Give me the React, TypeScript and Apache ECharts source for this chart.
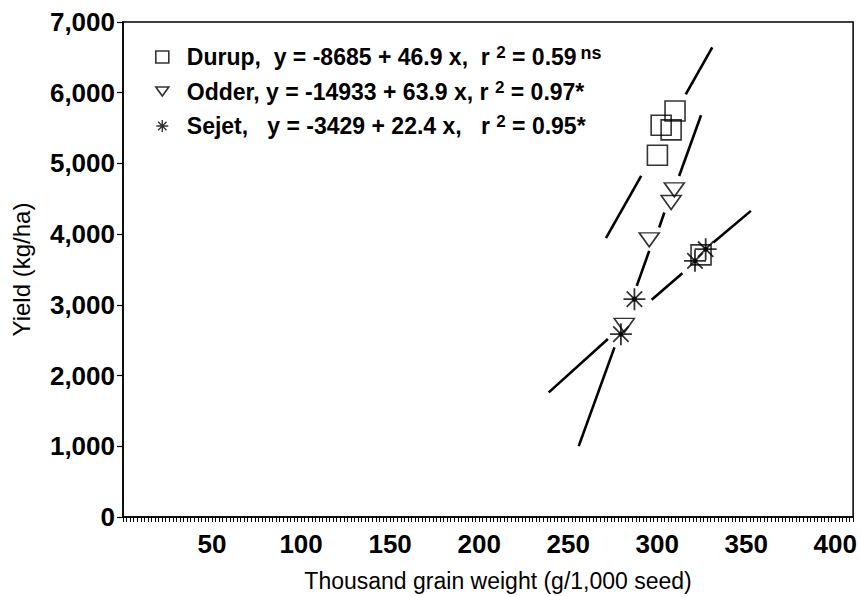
import React, { useEffect, useRef } from "react";
import * as echarts from "echarts";

const durupX = [310.0, 302.2, 307.8, 300.1, 324.6];
const durupY = [5742, 5540, 5474, 5116, 3707];
const odderX = [309.6, 307.8, 295.5, 281.5];
const odderY = [4626, 4447, 3919, 2709];
const sejetX = [327.2, 321.2, 287.2, 279.6];
const sejetY = [3787, 3622, 3081, 2586];

// Fitted-line pieces as drawn (each consecutive pair = one drawn dash)
const durupFitX = [271.2, 291.0, 316.0, 330.9];
const durupFitY = [3943, 4823, 5978, 6642];
const odderFitX = [255.9, 276.0, 288.5, 295.5, 301.1, 304.0, 312.3, 324.6];
const odderFitY = [1003, 2398, 3269, 3763, 4094, 4306, 4823, 5681];
const sejetFitX = [239.1, 272.3, 296.9, 314.1, 331.5, 352.6];
const sejetFitY = [1762, 2516, 3071, 3448, 3882, 4329];

const seriesNames = ["Durup", "Odder", "Sejet"];
const legendLabels: Record<string, string> = {
  Durup: "{t|Durup,  y = -8685 + 46.9 x,  r }{s|2}{t| = 0.59}{n|ns}",
  Odder: "{t|Odder, y = -14933 + 63.9 x, r }{s|2}{t| = 0.97*}",
  Sejet: "{t|Sejet,   y = -3429 + 22.4 x,   r }{s|2}{t| = 0.95*}",
};

const X_MIN = 0;
const X_MAX = 410;
const X_STEP = 50;
const Y_MIN = 0;
const Y_MAX = 7000;
const Y_STEP = 1000;

const FONT = "'Liberation Sans', Arial, Helvetica, sans-serif";
const ASTERISK = "path://M0,10L20,10M10,0L10,20M3,3L17,17M17,3L3,17";
const TRIANGLE_DOWN = "path://M0,0L20,0L10,14Z";

const zip = (xs: number[], ys: number[]) => xs.map((x, i) => [x, ys[i]]);
const pieces = (xs: number[], ys: number[]) => {
  const out: number[][][] = [];
  for (let i = 0; i + 1 < xs.length; i += 2) {
    out.push([
      [xs[i], ys[i]],
      [xs[i + 1], ys[i + 1]],
    ]);
  }
  return out;
};

const hollow = { color: "rgba(0,0,0,0)", borderColor: "#000", borderWidth: 1.6 };

export default function App() {
  const ref = useRef<HTMLDivElement>(null);

  useEffect(() => {
    if (!ref.current) return;
    const chart = echarts.init(ref.current, null, { renderer: "svg" });

    const fitLines = [
      ...pieces(durupFitX, durupFitY),
      ...pieces(odderFitX, odderFitY),
      ...pieces(sejetFitX, sejetFitY),
    ].map((seg, i) => ({
      type: "line",
      name: "fit" + i,
      data: seg,
      symbol: "none",
      silent: true,
      z: 1,
      lineStyle: { color: "#000", width: 2.6 },
    }));

    chart.setOption({
      animation: false,
      backgroundColor: "#fff",
      grid: {
        left: 123,
        right: 5,
        top: 22,
        bottom: 78,
        show: true,
        borderColor: "#000",
        borderWidth: 1.5,
        containLabel: false,
      },
      legend: {
        orient: "vertical",
        left: 150,
        top: 39,
        itemGap: 10,
        itemWidth: 13,
        itemHeight: 12,
        selectedMode: false,
        data: [
          { name: "Durup", icon: "rect", itemStyle: hollow },
          { name: "Odder", icon: TRIANGLE_DOWN, itemStyle: hollow },
          { name: "Sejet", icon: ASTERISK, itemStyle: { ...hollow, borderWidth: 1.4 } },
        ],
        formatter: (name: string) => legendLabels[name],
        textStyle: {
          padding: [0, 0, 0, 13],
          rich: {
            t: { fontFamily: FONT, fontSize: 23, fontWeight: "bold", color: "#000", lineHeight: 26 },
            s: { fontFamily: FONT, fontSize: 17, fontWeight: "bold", color: "#000", lineHeight: 16, verticalAlign: "top" },
            n: { fontFamily: FONT, fontSize: 18, fontWeight: "bold", color: "#000", lineHeight: 16, verticalAlign: "top", padding: [0, 0, 0, 4] },
          },
        },
      },
      xAxis: {
        type: "value",
        min: X_MIN,
        max: X_MAX,
        interval: X_STEP,
        splitLine: { show: false },
        axisLine: { show: true, lineStyle: { color: "#000", width: 1.5 } },
        axisTick: { show: true, length: 5, lineStyle: { color: "#000", width: 1 } },
        minorTick: { show: true, splitNumber: 25, length: 5, lineStyle: { color: "#000", width: 1 } },
        axisLabel: {
          margin: 14,
          color: "#000",
          fontFamily: FONT,
          fontSize: 26,
          fontWeight: "bold",
          showMaxLabel: false,
          formatter: (v: number) => (v > 0 && v % X_STEP === 0 ? String(v) : ""),
        },
        name: "Thousand grain weight (g/1,000 seed)",
        nameLocation: "middle",
        nameGap: 52,
        nameTextStyle: {
          color: "#000",
          fontFamily: FONT,
          fontSize: 23,
          padding: [0, 0, 0, 20],
        },
      },
      yAxis: {
        type: "value",
        min: Y_MIN,
        max: Y_MAX,
        interval: Y_STEP,
        splitLine: { show: false },
        axisLine: { show: true, lineStyle: { color: "#000", width: 1.5 } },
        axisTick: { show: true, length: 6, lineStyle: { color: "#000", width: 1.2 } },
        axisLabel: {
          margin: 8,
          color: "#000",
          fontFamily: FONT,
          fontSize: 26,
          fontWeight: "bold",
          formatter: (v: number) => v.toLocaleString("en-US"),
        },
        name: "Yield (kg/ha)",
        nameLocation: "middle",
        nameGap: 90,
        nameTextStyle: {
          color: "#000",
          fontFamily: FONT,
          fontSize: 24,
        },
      },
      series: [
        ...fitLines,
        {
          type: "scatter",
          name: seriesNames[0],
          data: zip(durupX, durupY),
          symbol: "rect",
          symbolSize: 20,
          itemStyle: hollow,
          z: 3,
        },
        {
          type: "scatter",
          name: seriesNames[1],
          data: zip(odderX, odderY),
          symbol: TRIANGLE_DOWN,
          symbolSize: [20, 14],
          itemStyle: hollow,
          z: 3,
        },
        {
          type: "scatter",
          name: seriesNames[2],
          data: zip(sejetX, sejetY),
          symbol: ASTERISK,
          symbolSize: 22,
          itemStyle: { ...hollow, borderWidth: 1.8 },
          z: 3,
        },
        {
          type: "scatter",
          name: "SejetDot",
          data: zip(sejetX, sejetY),
          symbol: "circle",
          symbolSize: 5,
          itemStyle: { color: "#000" },
          silent: true,
          z: 4,
        },
      ],
    });

    return () => chart.dispose();
  }, []);

  return (
    <div
      ref={ref}
      style={{ position: "fixed", left: 0, top: 0, width: 860, height: 597, background: "#fff" }}
    />
  );
}
